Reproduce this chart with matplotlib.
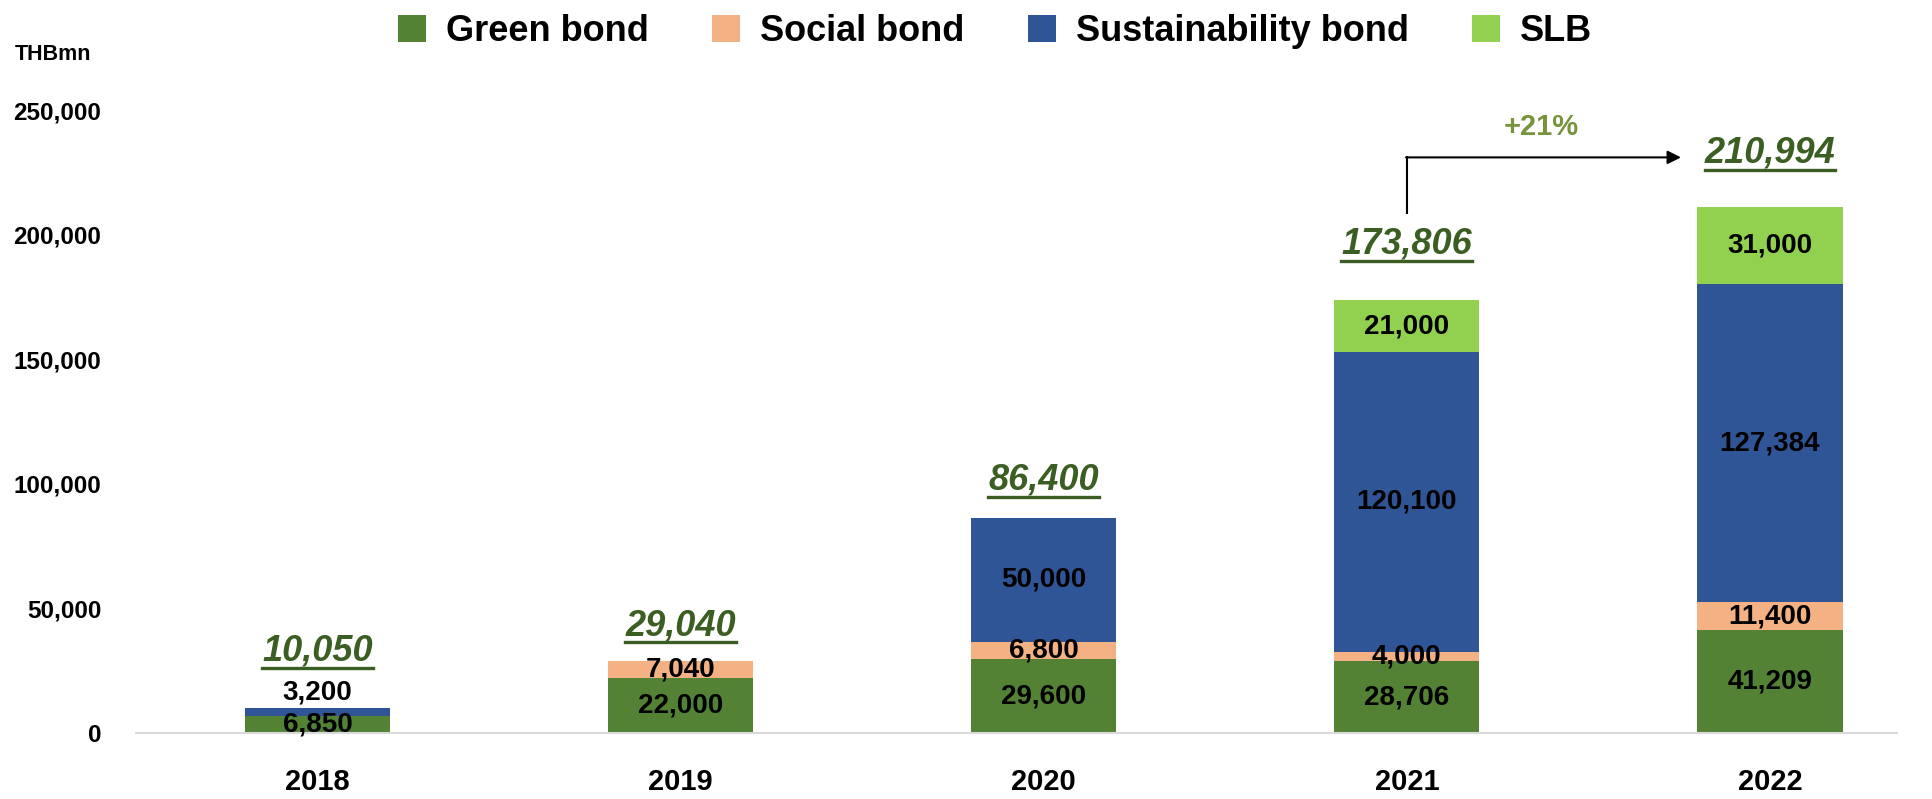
import numpy as np
import matplotlib.pyplot as plt
from matplotlib.lines import Line2D
from matplotlib.ticker import FuncFormatter

years = ['2018', '2019', '2020', '2021', '2022']
green = [6850, 22000, 29600, 28706, 41209]
social = [0, 7040, 6800, 4000, 11400]
sustain = [3200, 0, 50000, 120100, 127384]
slb = [0, 0, 0, 21000, 31000]
totals = [10050, 29040, 86400, 173806, 210994]

series = [('Green bond', green, '#548235'),
          ('Social bond', social, '#F4B183'),
          ('Sustainability bond', sustain, '#2F5597'),
          ('SLB', slb, '#92D050')]

plt.rcParams['font.family'] = 'Liberation Sans'
plt.rcParams['font.weight'] = 'bold'

fig = plt.figure(figsize=(19.32, 7.99), dpi=100)
ax = fig.add_axes([0.0704, 0.0826, 0.9115, 0.7797])

x = np.arange(len(years))
bottom = np.zeros(len(years))
for name, vals, color in series:
    vals = np.array(vals, dtype=float)
    ax.bar(x, vals, 0.4, bottom=bottom, color=color, label=name)
    for i, v in enumerate(vals):
        if v == 0:
            continue
        if v < 3500:
            # tiny top segment, label sits above the bar
            ax.annotate(f'{v:,.0f}', (x[i], bottom[i] + v), xytext=(0, 2),
                        textcoords='offset points', ha='center', va='bottom',
                        fontsize=20)
        else:
            ax.text(x[i], bottom[i] + v / 2, f'{v:,.0f}', ha='center',
                    va='center', fontsize=20)
    bottom += vals

# total labels (italic, underlined)
pads = [41, 25, 27, 40, 39]
tot_texts = []
for i, t in enumerate(totals):
    tt = ax.annotate(f'{t:,.0f}', (x[i], bottom[i]), xytext=(0, pads[i]),
                     textcoords='offset points', ha='center', va='center',
                     fontsize=26, style='italic', color='#3B5E22')
    tot_texts.append(tt)

# growth arrow 2021 -> 2022
y0 = totals[3] + 35000
y1 = totals[4] + 20000
ax.plot([x[3], x[3]], [y0, y1], color='black', lw=1.5, clip_on=False)
ax.annotate('', xy=(x[3] + 0.755, y1), xytext=(x[3] - 0.002, y1),
            arrowprops=dict(arrowstyle='-|>,head_length=0.8,head_width=0.4',
                            color='black', lw=1.5, shrinkA=0, shrinkB=0),
            annotation_clip=False)
growth = totals[4] / totals[3] - 1
ax.text(x[3] + 0.37, totals[4] + 32000, f'+{growth:.0%}', ha='center',
        va='center', fontsize=21, color='#77933C')

ax.set_xlim(-0.5, 4.35)
ax.set_ylim(0, 250000)
ax.set_xticks(x)
ax.set_xticklabels(years, fontsize=21)
ax.set_yticks(np.arange(0, 250001, 50000))
ax.yaxis.set_major_formatter(FuncFormatter(lambda v, p: f'{v:,.0f}'))
ax.tick_params(axis='y', labelsize=17.5, length=0, pad=25)
ax.tick_params(axis='x', length=0, pad=25)
for s in ['top', 'right', 'left']:
    ax.spines[s].set_visible(False)
ax.spines['bottom'].set_color('#D9D9D9')
ax.spines['bottom'].set_linewidth(1.5)

fig.text(15 / 1932, 1 - 54 / 799, 'THBmn', fontsize=15.5, va='center')

fig.legend(loc='center', bbox_to_anchor=(0.515, 0.961), ncol=4, frameon=False,
           fontsize=26, handlelength=0.78, handleheight=0.78,
           handletextpad=0.55, columnspacing=1.75)

# underline the totals
fig.canvas.draw()
r = fig.canvas.get_renderer()
inv = fig.transFigure.inverted()
for tt in tot_texts:
    bb = tt.get_window_extent(r)
    (a0, b0), (a1, b1) = inv.transform([(bb.x0, bb.y0 + 1), (bb.x1, bb.y0 + 1)])
    fig.add_artist(Line2D([a0, a1], [b0, b1], color='#3B5E22', lw=2.4,
                          transform=fig.transFigure))

fig.savefig('out.png', dpi=100)
